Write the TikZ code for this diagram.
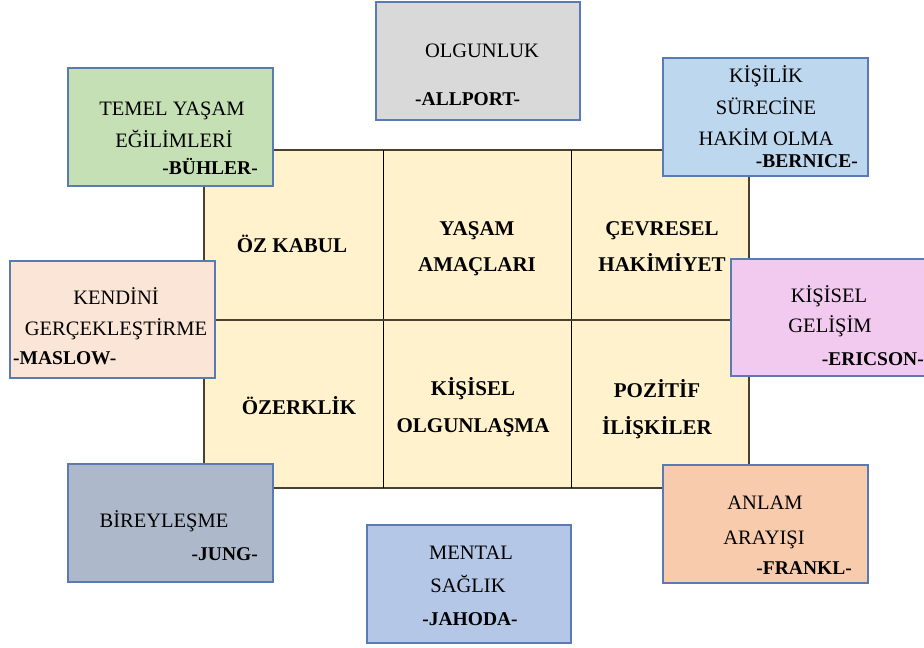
\documentclass[tikz,border=0pt]{standalone}
\usepackage{fontspec}
\setmainfont{Liberation Serif}
\definecolor{hucre}{HTML}{FFF2CC}
\definecolor{kenar}{HTML}{5A7AB4}
\definecolor{cizgi}{HTML}{4A4030}
\definecolor{yesil}{HTML}{C5E0B4}
\definecolor{gri}{HTML}{D9D9D9}
\definecolor{acikmavi}{HTML}{BDD7EE}
\definecolor{ten}{HTML}{FBE5D6}
\definecolor{pembe}{HTML}{F2CAF0}
\definecolor{arduvaz}{HTML}{ADB9CA}
\definecolor{mavi}{HTML}{B4C7E7}
\definecolor{turuncu}{HTML}{F8CBAD}
\begin{document}
\begin{tikzpicture}[
    x=1pt, y=-1pt,
    every node/.style={inner sep=0pt, text height=14pt, text depth=0pt},
    yazi/.style={font=\fontsize{20.5}{23}\selectfont},
    yazar/.style={font=\bfseries\fontsize{19.5}{23}\selectfont},
    boyut/.style={font=\bfseries\fontsize{21}{23}\selectfont},
    kutu/.style={draw=kenar, line width=1.1pt}]
    \useasboundingbox (0,0) rectangle (924,648);

    % Orta tablo: alti boyut.
    \fill[hucre] (204,150) rectangle (749,488);
    \draw[cizgi, line width=1.2pt] (204,150) rectangle (749,488);
    \draw[black, line width=1pt]
        (383,150) -- (383,488)
        (571,150) -- (571,488);
    \draw[cizgi, line width=1.2pt] (204,320) -- (749,320);
    \node[boyut] (ozkabul) at (292,245) {ÖZ KABUL};
    \node[boyut] (amac1) at (477,228) {YAŞAM};
    \node[boyut] (amac2) at (477,264) {AMAÇLARI};
    \node[boyut] (cevre1) at (662,228) {ÇEVRESEL};
    \node[boyut] (cevre2) at (662,264) {HAKİMİYET};
    \node[boyut] (ozerk) at (299,407) {ÖZERKLİK};
    \node[boyut] (olgun1) at (473,388) {KİŞİSEL};
    \node[boyut] (olgun2) at (473,425) {OLGUNLAŞMA};
    \node[boyut] (iliski1) at (657,390) {POZİTİF};
    \node[boyut] (iliski2) at (657,427) {İLİŞKİLER};

    % Kuram kutulari.
    \draw[kutu, fill=yesil] (68,68) rectangle (273,186);
    \node[yazi] (buhler1) at (172,108) {TEMEL YAŞAM};
    \node[yazi] (buhler2) at (174,140) {EĞİLİMLERİ};
    \node[yazar, anchor=east] (buhler) at (258,167) {-BÜHLER-};

    \draw[kutu, fill=gri] (376,2) rectangle (580,120);
    \node[yazi] (allport1) at (482,50) {OLGUNLUK};
    \node[yazar, anchor=west] (allport) at (415,98) {-ALLPORT-};

    \draw[kutu, fill=acikmavi] (663,58) rectangle (868,176);
    \node[yazi] (bernice1) at (766,75) {KİŞİLİK};
    \node[yazi] (bernice2) at (766,107) {SÜRECİNE};
    \node[yazi] (bernice3) at (766,138) {HAKİM OLMA};
    \node[yazar, anchor=east] (bernice) at (858,160) {-BERNICE-};

    \draw[kutu, fill=ten] (10,261) rectangle (215,378);
    \node[yazi] (maslow1) at (116,297) {KENDİNİ};
    \node[yazi] (maslow2) at (116,328) {GERÇEKLEŞTİRME};
    \node[yazar, anchor=west] (maslow) at (13,357) {-MASLOW-};

    \draw[kutu, fill=pembe] (731,259) rectangle (928,376);
    \node[yazi] (ericson1) at (829,295) {KİŞİSEL};
    \node[yazi] (ericson2) at (830,325) {GELİŞİM};
    \node[yazar, anchor=east] (ericson) at (924,358) {-ERICSON-};

    \draw[kutu, fill=arduvaz] (68,464) rectangle (273,582);
    \node[yazi] (jung1) at (164,520) {BİREYLEŞME};
    \node[yazar, anchor=east] (jung) at (258,553) {-JUNG-};

    \draw[kutu, fill=mavi] (367,525) rectangle (571,643);
    \node[yazi] (jahoda1) at (471,552) {MENTAL};
    \node[yazi] (jahoda2) at (468,585) {SAĞLIK};
    \node[yazar] (jahoda) at (470,618) {-JAHODA-};

    \draw[kutu, fill=turuncu] (663,465) rectangle (868,583);
    \node[yazi] (frankl1) at (765,502) {ANLAM};
    \node[yazi] (frankl2) at (764,537) {ARAYIŞI};
    \node[yazar, anchor=east] (frankl) at (852,567) {-FRANKL-};
\end{tikzpicture}
\end{document}
